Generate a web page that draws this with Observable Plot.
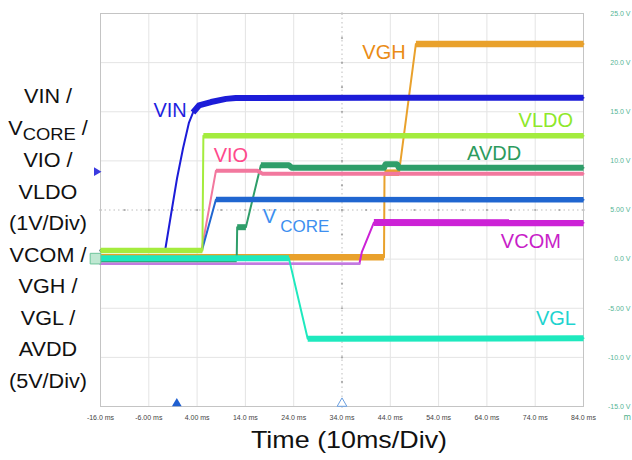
<!DOCTYPE html>
<html><head><meta charset="utf-8">
<script src="https://cdn.jsdelivr.net/npm/d3@7"></script>
<script src="https://cdn.jsdelivr.net/npm/@observablehq/plot@0.6"></script>
<style>
body{margin:0;background:#fff;font-family:"Liberation Sans",Arial,sans-serif;}
#wrap{position:relative;width:632px;height:460px;overflow:hidden;}
#left{position:absolute;left:0;top:81px;width:96px;text-align:center;font-size:20px;line-height:31.5px;color:#111;transform:scaleX(1.08);transform-origin:48px 0;}
#left .sub{font-size:0.85em;position:relative;top:5px;}
#caption{position:absolute;left:249px;top:427px;width:200px;text-align:center;font-size:24px;line-height:26px;color:#111;white-space:nowrap;transform:scaleX(1.12);transform-origin:100px 0;}
</style></head>
<body><div id="wrap"><div id="chart"></div><div id="left"></div><div id="caption"></div></div>
<script>
// ---- axis ticks and labels ----
const xTicks = [-16, -6, 4, 14, 24, 34, 44, 54, 64, 74, 84];
const xTickLabels = ["-16.0 ms","-6.00 ms","4.00 ms","14.0 ms","24.0 ms","34.0 ms","44.0 ms","54.0 ms","64.0 ms","74.0 ms","84.0 ms"];
const yTicks = [-15, -10, -5, 0, 5, 10, 15, 20, 25];
const yTickLabels = ["-15.0 V","-10.0 V","-5.00 V","0.0 V","5.00 V","10.0 V","15.0 V","20.0 V","25.0 V"];
const leftLabels = ["VIN /", "V<span class='sub'>CORE</span> /", "VIO /", "VLDO", "(1V/Div)", "VCOM /", "VGH /", "VGL /", "AVDD", "(5V/Div)"];
const xTitle = "Time (10ms/Div)";

// ---- traces (time in ms, value in screen volts of the 5V/div scale) ----
const vghT = [-16, 42.7, 42.8, 45.8, 49.3, 84];
const vghV = [0.2, 0.2, 8.8, 8.8, 21.9, 21.9];
const vcomT = [-16, 37.6, 38.1, 40.6, 84];
const vcomV = [-0.48, -0.48, 0.7, 3.72, 3.7];
const avddT = [-16, 12.2, 12.3, 14.1, 17.2, 23.0, 23.6, 42.7, 43.0, 45.4, 45.8, 84];
const avddV = [0, 0, 3.25, 3.25, 9.56, 9.55, 9.3, 9.3, 9.65, 9.65, 9.3, 9.3];
const vglT = [-16, 23.0, 26.9, 84];
const vglV = [0.1, 0.1, -8.1, -8.06];
const vioT = [-16, 4.9, 7.9, 16.5, 17.5, 84];
const vioV = [0.87, 0.87, 9.0, 9.0, 8.7, 8.68];
const vcoreT = [-16, 5.0, 7.9, 84];
const vcoreV = [0.87, 0.87, 6.07, 6.05];
const vinT = [-16, -2.65, -1.40, -0.16, 1.08, 2.32, 3.15, 4.39, 6.88, 9.98, 12, 40, 84];
const vinV = [0.87, 0.8, 4.54, 8.21, 11.26, 13.9, 14.92, 15.64, 15.99, 16.31, 16.4, 16.42, 16.42];
const vldoT = [-16, 5.1, 5.3, 84];
const vldoV = [0.87, 0.87, 12.55, 12.55];

// ---- in-plot labels ----
const labelText = ["VIN", "VGH", "VLDO", "VIO", "AVDD", "VCOM", "VGL"];
const labelT = [-1.6, 42.7, 76.2, 11.0, 65.5, 73.1, 78.3];
const labelV = [15.1, 21.0, 14.1, 10.55, 10.75, 1.8, -6.05];
const labelColor = ["#1f1fe0", "#ea8c16", "#8ee82a", "#ff4a8c", "#2c9b5e", "#c81ec8", "#1fd3cf"];
const vcoreLabelT = [17.6, 21.2];
const vcoreLabelV = [4.3, 3.3];

const series = [
  {name: "VGH", t: vghT, v: vghV, color: "#e9a12c", w: 6.5},
  {name: "VCOM", t: vcomT, v: vcomV, color: "#cc22d6", w: 7, thinBase: "#c27ae0"},
  {name: "AVDD", t: avddT, v: avddV, color: "#2f9e6a", w: 6},
  {name: "VGL", t: vglT, v: vglV, color: "#1ee9be", w: 6},
  {name: "VIO", t: vioT, v: vioV, color: "#f2789e", w: 4, hideBase: true},
  {name: "VCORE", t: vcoreT, v: vcoreV, color: "#2066d0", w: 5.5, hideBase: true},
  {name: "VIN", t: vinT, v: vinV, color: "#1c1cd8", w: 6, hideBase: true},
  {name: "VLDO", t: vldoT, v: vldoV, color: "#a4ec3e", w: 5.5}
];

const marks = [];
// grid
marks.push(Plot.ruleX(xTicks.filter(d => d !== 34 && d !== -16 && d !== 84), {stroke: "#e4e4e4", strokeWidth: 1}));
marks.push(Plot.ruleY(yTicks.filter(d => d !== 5 && d !== -15 && d !== 25), {stroke: "#e4e4e4", strokeWidth: 1}));
marks.push(Plot.ruleX([34], {stroke: "#bdbdbd", strokeDasharray: "1.5,3"}));
marks.push(Plot.ruleY([5], {stroke: "#bdbdbd", strokeDasharray: "1.5,3"}));
marks.push(Plot.dot(d3.range(-15, 25.01, 2.5), {x: () => 34, y: d => d, r: 1.1, fill: "#aaa"}));
marks.push(Plot.dot(d3.range(-16, 84.01, 5), {x: d => d, y: () => 5, r: 1.1, fill: "#aaa"}));
marks.push(Plot.frame({stroke: "#c4c4c4"}));

// traces: thin line for edges, thick runs for the noisy plateaus
for (const s of series) {
  const pts = s.t.map((t, i) => ({t, v: s.v[i]}));
  marks.push(Plot.line(pts, {x: "t", y: "v", stroke: s.color, strokeWidth: 2}));
  const runs = [];
  let run = -1, prevFlat = false;
  for (let i = 1; i < pts.length; i++) {
    const a = pts[i - 1], b = pts[i];
    const flat = Math.abs((b.v - a.v) / (b.t - a.t)) < 1.2 && !((s.thinBase || s.hideBase) && i === 1);
    if (flat) {
      if (!prevFlat) { run++; runs.push({t: a.t, v: a.v, run}); }
      runs.push({t: b.t, v: b.v, run});
    }
    prevFlat = flat;
  }
  marks.push(Plot.line(runs, {x: "t", y: "v", z: "run", stroke: s.color, strokeWidth: s.w, strokeLinecap: "butt", strokeLinejoin: "round"}));
  if (s.thinBase) {
    marks.push(Plot.line(pts.slice(0, 2), {x: "t", y: "v", stroke: s.thinBase, strokeWidth: 2.5, strokeDasharray: "2,1"}));
  }
}

// labels
marks.push(Plot.text(labelText.map((s, i) => ({s, t: labelT[i], v: labelV[i], c: labelColor[i]})),
  {x: "t", y: "v", text: "s", fill: "c", fontSize: 20, textAnchor: "middle", fontFamily: "Liberation Sans"}));
marks.push(Plot.text(["V"], {x: () => vcoreLabelT[0], y: () => vcoreLabelV[0], text: d => d, fill: "#3d8ff0", fontSize: 20, textAnchor: "start", fontFamily: "Liberation Sans"}));
marks.push(Plot.text(["CORE"], {x: () => vcoreLabelT[1], y: () => vcoreLabelV[1], text: d => d, fill: "#3d8ff0", fontSize: 17, textAnchor: "start", fontFamily: "Liberation Sans"}));

// scope markers
marks.push(Plot.dot([-0.2], {x: d => d, y: () => -15, dy: -3, symbol: "triangle", r: 3.6, fill: "#1f5fd0"}));
marks.push(Plot.dot([34], {x: d => d, y: () => -15, dy: -3, symbol: "triangle", r: 3.6, fill: "white", stroke: "#6b9fe0", strokeWidth: 1}));
marks.push(Plot.dot([8.9], {x: () => -16, y: d => d, dx: -4, symbol: "triangle", rotate: 90, r: 3.2, fill: "#3a3ae0"}));
marks.push(Plot.dot([0.05], {x: () => -16, y: d => d, dx: -5, symbol: "square", r: 6, fill: "#bfe8d2", stroke: "#6cc49a", strokeWidth: 1}));
marks.push(Plot.text(["m"], {frameAnchor: "bottom-right", dx: 40, dy: 13, text: d => d, fill: "#4cb08a", fontSize: 8, textAnchor: "start"}));

// axes
marks.push(Plot.axisX({ticks: xTicks, tickFormat: (d) => xTickLabels[xTicks.indexOf(d)], tickSize: 0, tickPadding: 9, fontSize: 7, fill: "#444", fontFamily: "Liberation Sans", label: null}));
marks.push(Plot.axisY({anchor: "right", ticks: yTicks, tickFormat: (d) => yTickLabels[yTicks.indexOf(d)], tickSize: 0, tickPadding: 47, textAnchor: "end", fontSize: 7, fill: "#55b595", fontFamily: "Liberation Sans", label: null}));

const chart = Plot.plot({
  width: 632, height: 430,
  marginLeft: 100, marginRight: 49, marginTop: 13, marginBottom: 24,
  x: {domain: [-16, 84], label: null},
  y: {domain: [-15, 25], label: null},
  style: {background: "white", overflow: "visible"},
  marks
});
document.getElementById("chart").appendChild(chart);
document.getElementById("left").innerHTML = leftLabels.join("<br>");
document.getElementById("caption").textContent = xTitle;
</script>
</body></html>
